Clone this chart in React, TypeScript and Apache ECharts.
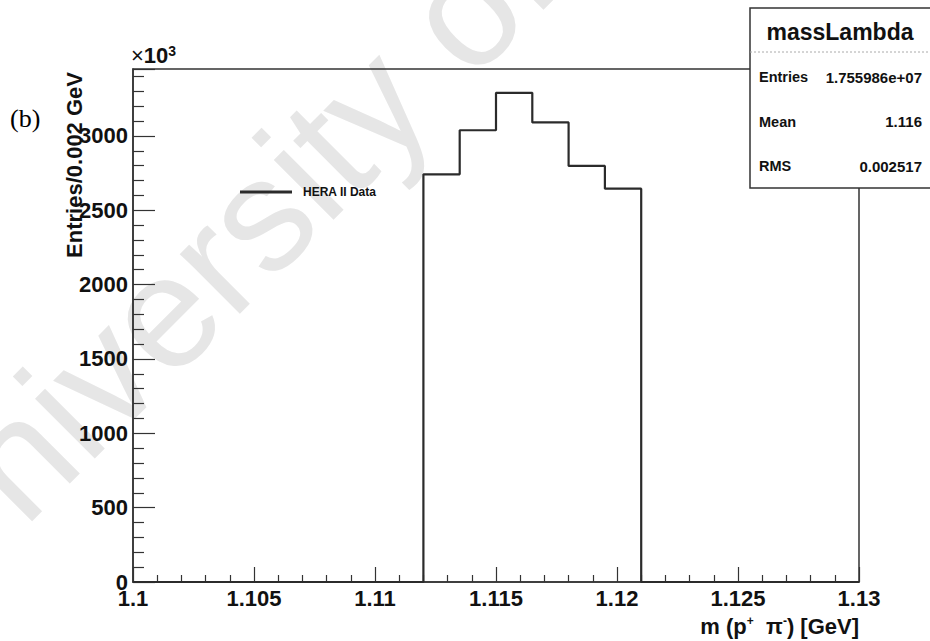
import React, { useEffect, useRef } from "react";
import * as echarts from "echarts";

// Histogram bin edges (GeV) and counts (in units of 10^3 entries)
const binEdges = [1.112, 1.1135, 1.115, 1.1165, 1.118, 1.1195, 1.121];
const binCounts = [2742, 3038, 3290, 3091, 2798, 2645];
const xRange = [1.1, 1.13];
const yRange = [0, 3450];
const seriesName = "HERA II Data";
const statsTitle = "massLambda";
const statsLabels = ["Entries", "Mean", "RMS"];
const statsValues = ["1.755986e+07", "1.116", "0.002517"];

const FONT = "'Liberation Sans', Arial, Helvetica, sans-serif";

function buildPoints(): number[][] {
  const pts: number[][] = [[xRange[0], 0], [binEdges[0], 0]];
  for (let i = 0; i < binCounts.length; i++) pts.push([binEdges[i], binCounts[i]]);
  pts.push([binEdges[binEdges.length - 1], 0]);
  pts.push([xRange[1], 0]);
  return pts;
}

export default function App() {
  const ref = useRef<HTMLDivElement>(null);
  useEffect(() => {
    if (!ref.current) return;
    const chart = echarts.init(ref.current, undefined, { renderer: "svg" });
    const axisColor = "#333";
    const statRows = statsLabels.map((lab, i) => [
      {
        type: "text",
        z: 102,
        style: { text: lab, x: 759, y: 77 + i * 44.5, verticalAlign: "middle", fontFamily: FONT, fontWeight: "bold", fontSize: 14.5, fill: "#111" },
      },
      {
        type: "text",
        z: 102,
        style: { text: statsValues[i], x: 922, y: 77 + i * 44.5, align: "right", verticalAlign: "middle", fontFamily: FONT, fontWeight: "bold", fontSize: 15, fill: "#111" },
      },
    ]).flat();

    chart.setOption({
      animation: false,
      backgroundColor: "#fff",
      grid: {
        left: 133,
        top: 69,
        right: 71,
        bottom: 59,
        show: true,
        borderColor: axisColor,
        borderWidth: 1.5,
        backgroundColor: "transparent",
      },
      legend: {
        data: [seriesName],
        left: 235,
        top: 181,
        icon: "rect",
        itemWidth: 52,
        itemHeight: 3,
        textStyle: { fontFamily: FONT, fontWeight: "bold", fontSize: 12, color: "#111", padding: [0, 0, 0, 6] },
      },
      xAxis: {
        type: "value",
        min: xRange[0],
        max: xRange[1],
        interval: 0.005,
        axisLine: { show: true, lineStyle: { color: axisColor, width: 1.5 } },
        axisTick: { show: true, inside: true, length: 15, lineStyle: { color: axisColor, width: 1.2 } },
        minorTick: { show: true, splitNumber: 5, length: 7, lineStyle: { color: axisColor, width: 1.2 } },
        splitLine: { show: false },
        axisLabel: {
          margin: 5,
          fontFamily: FONT,
          fontWeight: "bold",
          fontSize: 22,
          color: "#111",
          formatter: (v: number) => String(Number(v.toFixed(4))),
        },
      },
      yAxis: {
        type: "value",
        min: yRange[0],
        max: yRange[1],
        interval: 500,
        axisLine: { show: true, lineStyle: { color: axisColor, width: 1.5 } },
        axisTick: { show: true, inside: true, length: 22, lineStyle: { color: axisColor, width: 1.2 } },
        minorTick: { show: true, splitNumber: 5, length: 11, lineStyle: { color: axisColor, width: 1.2 } },
        splitLine: { show: false },
        axisLabel: {
          margin: 5,
          showMaxLabel: false,
          fontFamily: FONT,
          fontWeight: "bold",
          fontSize: 22,
          color: "#111",
          formatter: (v: number) => String(Math.round(v)),
        },
      },
      series: [
        {
          name: seriesName,
          type: "line",
          step: "end",
          showSymbol: false,
          symbol: "none",
          z: 5,
          itemStyle: { color: "#2b2b2b" },
          lineStyle: { color: "#2b2b2b", width: 2.2 },
          data: buildPoints(),
        },
      ],
      graphic: [
        {
          type: "text",
          z: -10,
          x: -40,
          y: 628,
          rotation: Math.PI / 4,
          style: { text: "University of Malaya", fontFamily: FONT, fontSize: 160, fill: "#e6e6e6", align: "left", verticalAlign: "bottom" },
        },
        {
          type: "text",
          z: 10,
          style: { text: "(b)", x: 10, y: 118, verticalAlign: "middle", fontFamily: "'Liberation Serif', 'Times New Roman', serif", fontSize: 26, fill: "#000" },
        },
        {
          type: "text",
          z: 10,
          style: {
            text: "{x|×}{a|10}{s|3}",
            x: 131,
            y: 44,
            rich: {
              x: { fontFamily: FONT, fontSize: 22, fill: "#111", color: "#111", verticalAlign: "bottom" },
              a: { fontFamily: FONT, fontWeight: "bold", fontSize: 22, fill: "#111", color: "#111", verticalAlign: "bottom" },
              s: { fontFamily: FONT, fontWeight: "bold", fontSize: 14, fill: "#111", color: "#111", verticalAlign: "top" },
            },
          },
        },
        {
          type: "text",
          z: 10,
          x: 74,
          y: 72,
          rotation: Math.PI / 2,
          style: { text: "Entries/0.002 GeV", align: "right", verticalAlign: "middle", fontFamily: FONT, fontWeight: "bold", fontSize: 22, fill: "#111" },
        },
        {
          type: "text",
          z: 10,
          style: {
            text: "{a|m (p}{s|+}{a|  π}{s|-}{a|) [GeV]}",
            x: 859,
            y: 615,
            align: "right",
            rich: {
              a: { fontFamily: FONT, fontWeight: "bold", fontSize: 22, fill: "#111", color: "#111", verticalAlign: "bottom" },
              s: { fontFamily: FONT, fontWeight: "bold", fontSize: 12, fill: "#111", color: "#111", verticalAlign: "top" },
            },
          },
        },
        {
          type: "rect",
          z: 100,
          shape: { x: 750, y: 8, width: 200, height: 180 },
          style: { fill: "#fff", stroke: axisColor, lineWidth: 1.5 },
        },
        {
          type: "line",
          z: 101,
          shape: { x1: 750, y1: 52, x2: 930, y2: 52 },
          style: { stroke: "#aaa", lineWidth: 1, lineDash: [2, 2] },
        },
        {
          type: "text",
          z: 102,
          style: { text: statsTitle, x: 840, y: 32, align: "center", verticalAlign: "middle", fontFamily: FONT, fontWeight: "bold", fontSize: 23, fill: "#111" },
        },
        ...statRows,
      ],
    });
    return () => chart.dispose();
  }, []);
  return <div ref={ref} style={{ position: "fixed", left: 0, top: 0, width: 930, height: 641 }} />;
}
